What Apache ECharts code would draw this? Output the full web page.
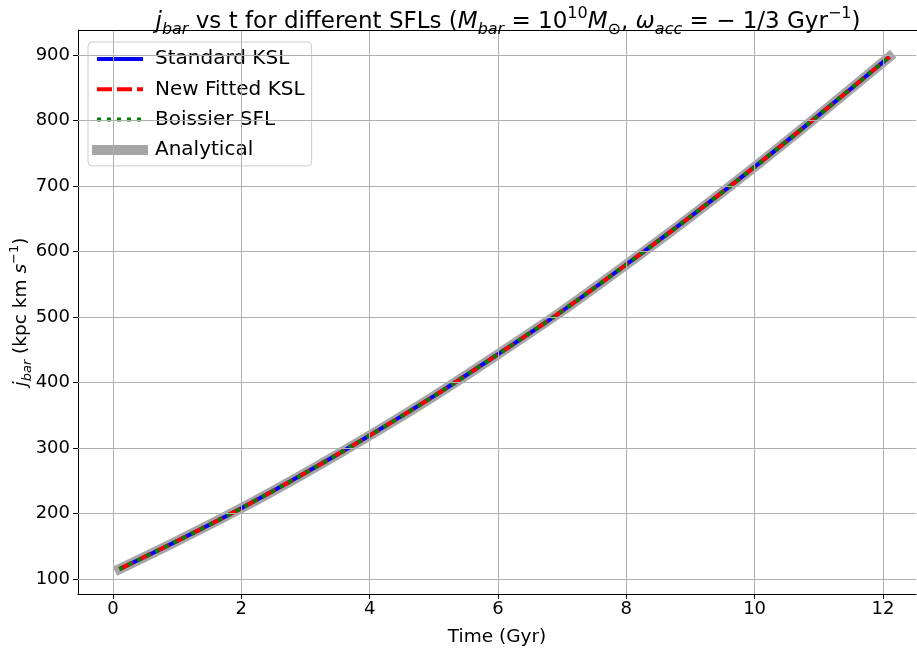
<!DOCTYPE html>
<html>
<head>
<meta charset="utf-8">
<script src="https://cdn.jsdelivr.net/npm/echarts@6/dist/echarts.min.js"></script>
<style>
html,body{margin:0;padding:0;background:#fff;}
#chart{width:917px;height:648px;}
</style>
</head>
<body>
<div id="chart"></div>
<script>
// ---- data ----
const timeGyr = [0.1, 1, 2, 3, 4, 5, 6, 7, 8, 9, 10, 11, 12.1];
const jStandardKSL = [115, 158, 208, 262, 319, 379, 443, 509, 580, 653, 729, 808, 897];
const jNewFittedKSL = [115, 158, 208, 262, 319, 379, 443, 509, 580, 653, 729, 808, 897];
const jBoissierSFL = [115, 158, 208, 262, 319, 379, 443, 509, 580, 653, 729, 808, 897];
const jAnalytical = [115, 158, 208, 262, 319, 379, 443, 509, 580, 653, 729, 808, 897];
const xTicks = [0, 2, 4, 6, 8, 10, 12];
const yTicks = [100, 200, 300, 400, 500, 600, 700, 800, 900];
const seriesNames = ['Standard KSL', 'New Fitted KSL', 'Boissier SFL', 'Analytical'];

const pairs = (xs, ys) => xs.map((x, i) => [x, ys[i]]);
const FONT = 'DejaVu Sans';
const gridColor = '#b0b0b0';
const X_MIN = -0.545, X_MAX = 12.515, Y_MIN = 77, Y_MAX = 938;

const chart = echarts.init(document.getElementById('chart'), null, {renderer: 'canvas'});

const gridLines = [];
xTicks.forEach(v => gridLines.push({xAxis: v}));
yTicks.forEach(v => gridLines.push({yAxis: v}));

const hiddenSymbol = {opacity: 0, color: 'rgba(0,0,0,0)', borderWidth: 0};
const DASH = [15, 5];
const DOT = [4, 6];

const option = {
  backgroundColor: '#ffffff',
  animation: false,
  textStyle: {fontFamily: FONT},
  title: {
    text: '{i|j}{sub|bar}{n| vs t for different SFLs (}{i|M}{sub|bar}{n| = 10}{sup|10}{i|M}{sub|⊙}{n|, }{i|ω}{sub|acc}{n| = − 1/3 Gyr}{sup|−1}{n|)}',
    left: 503,
    textAlign: 'center',
    top: 1,
    textStyle: {
      fontFamily: FONT,
      fontWeight: 'normal',
      color: '#000',
      fontSize: 23,
      rich: {
        n: {fontFamily: FONT, fontSize: 23, color: '#000', lineHeight: 32},
        i: {fontFamily: FONT, fontSize: 23, fontStyle: 'italic', color: '#000', lineHeight: 32},
        sub: {fontFamily: FONT, fontSize: 16, fontStyle: 'italic', color: '#000', lineHeight: 20, verticalAlign: 'bottom'},
        sup: {fontFamily: FONT, fontSize: 16, color: '#000', lineHeight: 18, verticalAlign: 'top'}
      }
    }
  },
  grid: {left: 78, right: 1, top: 30, bottom: 54, show: false, containLabel: false, outerBoundsMode: 'none'},
  legend: {
    orient: 'vertical',
    left: 88,
    top: 42,
    padding: [7, 7, 6, 4],
    itemGap: 10.3,
    itemWidth: 46,
    itemHeight: 24,
    backgroundColor: 'rgba(255,255,255,0.85)',
    borderColor: '#cccccc',
    borderWidth: 1,
    borderRadius: 4,
    textStyle: {fontFamily: FONT, fontSize: 20, color: '#000', padding: [0, 0, 0, 7]},
    data: [
      {name: 'Standard KSL', lineStyle: {width: 4}, itemStyle: hiddenSymbol},
      {name: 'New Fitted KSL', lineStyle: {width: 4, type: DASH}, itemStyle: hiddenSymbol},
      {name: 'Boissier SFL', lineStyle: {width: 4, type: DOT}, itemStyle: hiddenSymbol},
      {name: 'Analytical', lineStyle: {width: 10}, itemStyle: hiddenSymbol}
    ]
  },
  xAxis: {
    type: 'value',
    min: X_MIN,
    max: X_MAX,
    name: 'Time (Gyr)',
    nameLocation: 'middle',
    nameGap: 34,
    nameMoveOverlap: false,
    nameTextStyle: {fontFamily: FONT, fontSize: 18.5, color: '#000'},
    axisLine: {show: true, onZero: false, lineStyle: {color: '#000', width: 1}},
    axisTick: {show: true, length: 5, lineStyle: {color: '#000'}, customValues: xTicks},
    axisLabel: {fontFamily: FONT, fontSize: 18, color: '#000', margin: 6, customValues: xTicks},
    splitLine: {show: false}
  },
  yAxis: {
    type: 'value',
    min: Y_MIN,
    max: Y_MAX,
    name: '{i|j}{sub|bar}{n| (kpc km }{i|s}{sup|−1}{n|)}',
    nameLocation: 'middle',
    nameRotate: 90,
    nameGap: 44,
    nameMoveOverlap: false,
    nameTextStyle: {
      fontFamily: FONT, fontSize: 18.5, color: '#000',
      rich: {
        n: {fontFamily: FONT, fontSize: 18.5, color: '#000', lineHeight: 26},
        i: {fontFamily: FONT, fontSize: 18.5, fontStyle: 'italic', color: '#000', lineHeight: 26},
        sub: {fontFamily: FONT, fontSize: 13, fontStyle: 'italic', color: '#000', lineHeight: 17, verticalAlign: 'bottom'},
        sup: {fontFamily: FONT, fontSize: 13, color: '#000', lineHeight: 14, verticalAlign: 'top'}
      }
    },
    axisLine: {show: true, onZero: false, lineStyle: {color: '#000', width: 1}},
    axisTick: {show: true, length: 5, lineStyle: {color: '#000'}, customValues: yTicks},
    axisLabel: {fontFamily: FONT, fontSize: 18, color: '#000', margin: 8, customValues: yTicks},
    splitLine: {show: false}
  },
  series: [
    {
      name: 'gridlines',
      type: 'line',
      data: [],
      z: 0,
      silent: true,
      markLine: {
        silent: true,
        symbol: 'none',
        label: {show: false},
        lineStyle: {color: gridColor, width: 1, type: 'solid'},
        emphasis: {disabled: true},
        data: gridLines
      }
    },
    {
      name: 'Analytical',
      type: 'line',
      data: pairs(timeGyr, jAnalytical),
      smooth: 0.3,
      symbol: 'none',
      z: 1,
      lineStyle: {color: '#a6a6a6', width: 10, cap: 'square'},
      itemStyle: {color: '#a6a6a6'}
    },
    {
      name: 'Standard KSL',
      type: 'line',
      data: pairs(timeGyr, jStandardKSL),
      smooth: 0.3,
      symbol: 'none',
      z: 2,
      lineStyle: {color: '#0000ff', width: 4},
      itemStyle: {color: '#0000ff'}
    },
    {
      name: 'New Fitted KSL',
      type: 'line',
      data: pairs(timeGyr, jNewFittedKSL),
      smooth: 0.3,
      symbol: 'none',
      z: 3,
      lineStyle: {color: '#ff0000', width: 4, type: DASH},
      itemStyle: {color: '#ff0000'}
    },
    {
      name: 'Boissier SFL',
      type: 'line',
      data: pairs(timeGyr, jBoissierSFL),
      smooth: 0.3,
      symbol: 'none',
      z: 4,
      lineStyle: {color: '#008000', width: 4, type: DOT},
      itemStyle: {color: '#008000'}
    }
  ]
};
chart.setOption(option);

// top spine drawn at the grid's top edge via the axis scale
const topY = Math.round(chart.convertToPixel({yAxisIndex: 0}, Y_MAX));
const leftX = chart.convertToPixel({xAxisIndex: 0}, X_MIN);
chart.setOption({graphic: [{type: 'line', shape: {x1: leftX, y1: topY + 0.5, x2: 917, y2: topY + 0.5}, style: {stroke: '#000', lineWidth: 1}, z: 10}]});
</script>
</body>
</html>
